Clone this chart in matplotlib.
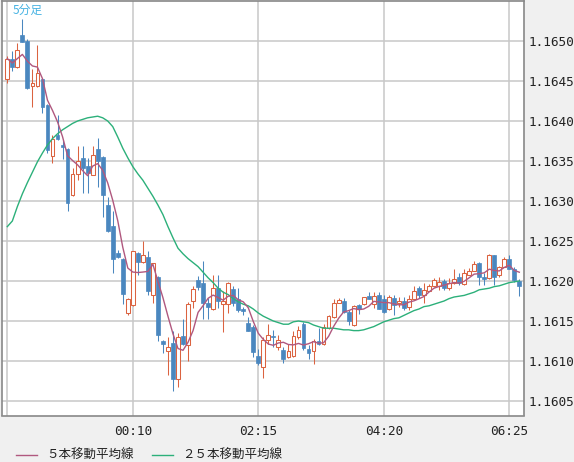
import matplotlib
matplotlib.use('Agg')
import matplotlib.pyplot as plt
from matplotlib.patches import Rectangle
from matplotlib.lines import Line2D
import pandas as pd

# 5-minute candles, EUR/USD style quotes
opens = [
    1.16453, 1.16478, 1.16467, 1.16508, 1.16500, 1.16444, 1.16444, 1.16453, 1.16420, 1.16356,
    1.16383, 1.16370, 1.16365, 1.16307, 1.16334, 1.16354, 1.16344, 1.16333, 1.16365, 1.16355,
    1.16295, 1.16269, 1.16235, 1.16228, 1.16160, 1.16170, 1.16235, 1.16224, 1.16230, 1.16183,
    1.16205, 1.16125, 1.16112, 1.16123, 1.16077, 1.16131, 1.16120, 1.16175, 1.16201, 1.16197,
    1.16173, 1.16165, 1.16191, 1.16171, 1.16171, 1.16190, 1.16177, 1.16165, 1.16148, 1.16142,
    1.16106, 1.16093, 1.16126, 1.16131, 1.16118, 1.16114, 1.16105, 1.16106, 1.16130, 1.16146,
    1.16115, 1.16112, 1.16125, 1.16121, 1.16141, 1.16155, 1.16173, 1.16175, 1.16161, 1.16145,
    1.16170, 1.16171, 1.16181, 1.16171, 1.16183, 1.16178, 1.16165, 1.16179, 1.16172, 1.16175,
    1.16167, 1.16177, 1.16191, 1.16183, 1.16188, 1.16194, 1.16194, 1.16200, 1.16191, 1.16197,
    1.16205, 1.16196, 1.16208, 1.16213, 1.16223, 1.16205, 1.16204, 1.16232, 1.16207, 1.16218,
    1.16228, 1.16215, 1.16200]
highs = [
    1.16481, 1.16488, 1.16497, 1.16528, 1.16502, 1.16465, 1.16495, 1.16454, 1.16421, 1.16383,
    1.16408, 1.16376, 1.16366, 1.16341, 1.16369, 1.16369, 1.16354, 1.16369, 1.16379, 1.16356,
    1.16305, 1.16287, 1.16239, 1.16229, 1.16179, 1.16238, 1.16236, 1.16250, 1.16237, 1.16223,
    1.16206, 1.16126, 1.16130, 1.16137, 1.16135, 1.16152, 1.16174, 1.16194, 1.16206, 1.16225,
    1.16179, 1.16208, 1.16208, 1.16187, 1.16199, 1.16194, 1.16191, 1.16168, 1.16155, 1.16145,
    1.16115, 1.16130, 1.16146, 1.16139, 1.16133, 1.16117, 1.16121, 1.16137, 1.16144, 1.16149,
    1.16120, 1.16127, 1.16141, 1.16146, 1.16157, 1.16178, 1.16179, 1.16179, 1.16164, 1.16170,
    1.16171, 1.16180, 1.16186, 1.16186, 1.16186, 1.16182, 1.16183, 1.16183, 1.16180, 1.16180,
    1.16183, 1.16194, 1.16194, 1.16197, 1.16196, 1.16204, 1.16205, 1.16203, 1.16204, 1.16215,
    1.16210, 1.16215, 1.16216, 1.16225, 1.16224, 1.16210, 1.16234, 1.16233, 1.16219, 1.16230,
    1.16232, 1.16218, 1.16203]
lows = [
    1.16447, 1.16462, 1.16466, 1.16499, 1.16440, 1.16417, 1.16443, 1.16410, 1.16360, 1.16348,
    1.16376, 1.16353, 1.16287, 1.16306, 1.16326, 1.16310, 1.16310, 1.16332, 1.16318, 1.16280,
    1.16261, 1.16210, 1.16229, 1.16171, 1.16158, 1.16169, 1.16208, 1.16223, 1.16183, 1.16172,
    1.16125, 1.16110, 1.16083, 1.16062, 1.16068, 1.16120, 1.16100, 1.16166, 1.16189, 1.16152,
    1.16152, 1.16164, 1.16166, 1.16136, 1.16160, 1.16169, 1.16161, 1.16158, 1.16137, 1.16105,
    1.16095, 1.16079, 1.16121, 1.16118, 1.16114, 1.16098, 1.16104, 1.16105, 1.16128, 1.16114,
    1.16103, 1.16096, 1.16120, 1.16120, 1.16140, 1.16154, 1.16172, 1.16160, 1.16145, 1.16144,
    1.16159, 1.16170, 1.16177, 1.16166, 1.16165, 1.16160, 1.16164, 1.16158, 1.16167, 1.16164,
    1.16164, 1.16176, 1.16179, 1.16173, 1.16187, 1.16193, 1.16189, 1.16189, 1.16189, 1.16196,
    1.16195, 1.16195, 1.16207, 1.16212, 1.16195, 1.16195, 1.16203, 1.16195, 1.16205, 1.16217,
    1.16215, 1.16199, 1.16181]
closes = [
    1.16478, 1.16467, 1.16489, 1.16499, 1.16441, 1.16448, 1.16460, 1.16417, 1.16364, 1.16377,
    1.16377, 1.16367, 1.16298, 1.16334, 1.16350, 1.16341, 1.16335, 1.16358, 1.16350, 1.16308,
    1.16262, 1.16227, 1.16230, 1.16184, 1.16178, 1.16237, 1.16224, 1.16233, 1.16188, 1.16222,
    1.16132, 1.16121, 1.16117, 1.16078, 1.16130, 1.16121, 1.16171, 1.16190, 1.16192, 1.16172,
    1.16167, 1.16191, 1.16175, 1.16175, 1.16197, 1.16172, 1.16164, 1.16162, 1.16138, 1.16111,
    1.16098, 1.16126, 1.16133, 1.16130, 1.16126, 1.16102, 1.16112, 1.16131, 1.16139, 1.16116,
    1.16110, 1.16125, 1.16121, 1.16142, 1.16156, 1.16172, 1.16176, 1.16161, 1.16150, 1.16169,
    1.16165, 1.16180, 1.16178, 1.16181, 1.16165, 1.16161, 1.16180, 1.16170, 1.16175, 1.16166,
    1.16177, 1.16188, 1.16183, 1.16189, 1.16194, 1.16201, 1.16199, 1.16191, 1.16198, 1.16202,
    1.16197, 1.16210, 1.16213, 1.16221, 1.16205, 1.16202, 1.16233, 1.16205, 1.16218, 1.16227,
    1.16215, 1.16201, 1.16194]
# 25-bar average as drawn (needs bars before the visible window)
ma25 = [
    1.16268, 1.16275, 1.16293, 1.16309, 1.16323, 1.16336, 1.16349, 1.16360, 1.16370, 1.16378,
    1.16384, 1.16389, 1.16393, 1.16397, 1.16400, 1.16402, 1.16404, 1.16405, 1.16406, 1.16404,
    1.16400, 1.16393, 1.16380, 1.16366, 1.16354, 1.16343, 1.16334, 1.16326, 1.16316, 1.16306,
    1.16295, 1.16283, 1.16268, 1.16254, 1.16241, 1.16234, 1.16228, 1.16223, 1.16218, 1.16211,
    1.16204, 1.16198, 1.16191, 1.16186, 1.16183, 1.16178, 1.16174, 1.16171, 1.16169, 1.16165,
    1.16160, 1.16156, 1.16153, 1.16150, 1.16148, 1.16146, 1.16146, 1.16149, 1.16150, 1.16149,
    1.16148, 1.16145, 1.16143, 1.16141, 1.16141, 1.16141, 1.16140, 1.16139, 1.16139, 1.16138,
    1.16138, 1.16139, 1.16141, 1.16143, 1.16146, 1.16149, 1.16151, 1.16153, 1.16154, 1.16157,
    1.16160, 1.16163, 1.16165, 1.16168, 1.16169, 1.16171, 1.16173, 1.16175, 1.16178, 1.16180,
    1.16181, 1.16182, 1.16184, 1.16186, 1.16189, 1.16190, 1.16191, 1.16193, 1.16194, 1.16196,
    1.16198, 1.16199, 1.16200]

tick_pos = [0, 25, 50, 75, 100]
tick_labels = ['', '00:10', '02:15', '04:20', '06:25']
price_ticks = [1.1605, 1.1610, 1.1615, 1.1620, 1.1625, 1.1630, 1.1635, 1.1640, 1.1645, 1.1650]

df = pd.DataFrame({'open': opens, 'high': highs, 'low': lows, 'close': closes})
df['ma5'] = df['close'].rolling(5, min_periods=1).mean()
df['ma25'] = ma25

UP = '#db6340'
DOWN = '#4a87bf'
MA5_C = '#b0587f'
MA25_C = '#2cb07a'
jp = ['Noto Sans CJK JP', 'DejaVu Sans']

W, H = 574, 462
fig = plt.figure(figsize=(W / 100, H / 100), dpi=100, facecolor='#f0f0f0')
ax = fig.add_axes([2 / W, 46.5 / H, 522 / W, 414.5 / H])
ax.set_facecolor('white')

bw = 0.76
for i, r in df.iterrows():
    up = r['close'] >= r['open']
    col = UP if up else DOWN
    ax.vlines(i, r['low'], r['high'], color=col, lw=0.75, zorder=2)
    bottom = min(r['open'], r['close'])
    h = max(abs(r['close'] - r['open']), 0.000008)
    if up:
        ax.add_patch(Rectangle((i - bw / 2, bottom), bw, h, facecolor='white',
                               edgecolor=col, lw=0.75, zorder=3))
    else:
        ax.add_patch(Rectangle((i - bw / 2, bottom), bw, h, facecolor=col,
                               edgecolor=col, lw=0.5, zorder=3))

ax.plot(df.index, df['ma25'], color=MA25_C, lw=1.0, zorder=4)
ax.plot(df.index, df['ma5'], color=MA5_C, lw=1.0, zorder=4)

ax.set_xlim(-1.06, 102.93)
ax.set_ylim(1.160319, 1.1655)
ax.set_xticks(tick_pos)
ax.set_xticklabels(tick_labels)
ax.yaxis.tick_right()
ax.set_yticks(price_ticks)
ax.set_yticklabels([f'{p:.4f}' for p in price_ticks])
ax.tick_params(length=0, labelsize=9.2, colors='#222222', pad=3)
ax.tick_params(axis='x', pad=7)
for lab in ax.get_xticklabels() + ax.get_yticklabels():
    lab.set_family('DejaVu Sans Mono')
ax.grid(True, color='#c8c8c8', lw=1.1, zorder=0)
ax.set_axisbelow(True)
for s in ax.spines.values():
    s.set_color('#888888')
    s.set_linewidth(1.2)

fig.text(13 / W, 1 - 10 / H, '5分足', color='#47b3e3', fontsize=8.5,
         va='center', ha='left', family=jp)

# legend along the bottom
ly = 1 - 455 / H
fig.add_artist(Line2D([16 / W, 37 / W], [ly, ly], color=MA5_C, lw=1.0))
fig.text(46 / W, ly, '５本移動平均線', fontsize=9, va='center', color='#222222', family=jp)
fig.add_artist(Line2D([152 / W, 173 / W], [ly, ly], color=MA25_C, lw=1.0))
fig.text(182 / W, ly, '２５本移動平均線', fontsize=9, va='center', color='#222222', family=jp)

fig.savefig('out.png', dpi=100, facecolor=fig.get_facecolor())
